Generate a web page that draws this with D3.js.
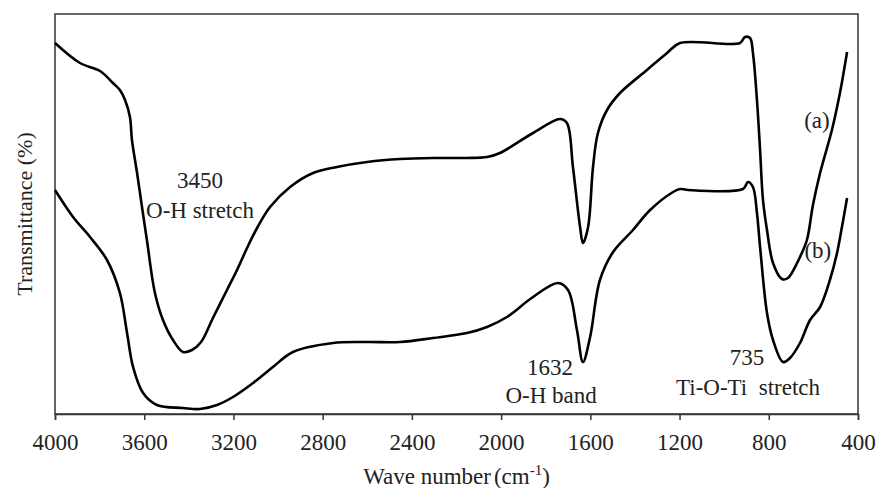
<!DOCTYPE html>
<html>
<head>
<meta charset="utf-8">
<script src="https://cdn.jsdelivr.net/npm/d3@7"></script>
<style>
  body { margin: 0; background: #fff; }
  text { font-family: "Liberation Serif", "Times New Roman", serif; fill: #222; }
</style>
</head>
<body>
<div id="chart"></div>
<script>
// Data (wave number in cm-1, transmittance in arbitrary %)
const wave_a = [4000, 3888, 3798, 3740, 3709, 3686, 3664, 3655, 3632, 3610, 3588, 3552, 3516, 3471, 3426, 3386, 3345, 3292, 3229, 3184, 3139, 3094, 3036, 2946, 2843, 2736, 2601, 2453, 2305, 2153, 2063, 2005, 1857, 1736, 1705, 1678, 1646, 1633, 1610, 1588, 1566, 1525, 1467, 1346, 1256, 1198, 929, 907, 884, 871, 853, 839, 826, 808, 781, 741, 714, 673, 660, 629, 602, 570, 517, 481, 449];
const trans_a = [92.75, 87.75, 85.75, 82.75, 81, 78.5, 74.25, 68.5, 60.25, 51.75, 43.5, 30.25, 23.5, 18.5, 15.5, 16, 18, 24, 31, 36, 41.5, 46.5, 51.75, 56.75, 60.25, 61.75, 63, 63.75, 64, 64, 64.25, 65.25, 70.25, 73.75, 72.75, 61.75, 46.75, 42.75, 46.75, 61.75, 70.25, 76, 80.25, 86, 90.25, 92.75, 92.75, 94.25, 94, 90.25, 78.5, 66, 53.5, 46, 37.75, 33.75, 34, 37.75, 39.25, 43.5, 52.25, 60.25, 71, 80.25, 90.5];

const wave_b = [4000, 3919, 3843, 3767, 3709, 3677, 3650, 3605, 3543, 3426, 3350, 3274, 3202, 3112, 3023, 2933, 2754, 2601, 2453, 2305, 2153, 2063, 1974, 1857, 1745, 1700, 1660, 1633, 1601, 1557, 1498, 1409, 1332, 1229, 1198, 1162, 916, 893, 871, 853, 839, 808, 781, 736, 705, 660, 615, 570, 526, 494, 472, 449];
const trans_b = [56, 49.25, 44.25, 38.5, 30.25, 20.25, 11.75, 5.25, 2.25, 1.5, 1.25, 2.25, 4.25, 7.75, 11.75, 15.5, 17.75, 18, 18, 19, 20.25, 21.75, 24.25, 29.25, 32.75, 31, 21, 13, 19.25, 33.5, 40.5, 46, 51, 55.5, 56.25, 56, 56.25, 58, 56.75, 50.25, 41.75, 25.25, 18.5, 13, 14, 17.75, 23.5, 26.75, 33.5, 40.25, 46.75, 54];

const x_ticks = [4000, 3600, 3200, 2800, 2400, 2000, 1600, 1200, 800, 400];

// annotations: [wave, trans, text]
const notes = [
    [3350, 56.5, "3450"],
    [3350, 49, "O-H stretch"],
    [1781, 9.75, "1632"],
    [1776, 2.75, "O-H band"],
    [898, 12.25, "735"],
    [893, 4.75, "Ti-O-Ti  stretch"],
    [584, 71.5, "(a)"],
    [580, 39, "(b)"]
];

const series = [
    wave_a.map((w, i) => ({w: w, t: trans_a[i]})),
    wave_b.map((w, i) => ({w: w, t: trans_b[i]}))
];

const chart_width = 878;
const chart_height = 488;
const plot_left = 55, plot_right = 858, plot_top = 14, plot_bottom = 414;

// Scales
const x_scale = d3.scaleLinear()
    .domain([4000, 400])
    .range([plot_left, plot_right]);

const y_scale = d3.scaleLinear()
    .domain([0, 100])
    .range([plot_bottom, plot_top]);

// Create SVG
const svg = d3.select("#chart")
    .append("svg")
    .attr("width", chart_width)
    .attr("height", chart_height);

// Frame
svg.append("rect")
    .attr("x", plot_left)
    .attr("y", plot_top)
    .attr("width", plot_right - plot_left)
    .attr("height", plot_bottom - plot_top)
    .attr("fill", "none")
    .attr("stroke", "#333")
    .attr("stroke-width", 1.5);

// Axis
const x_axis = d3.axisBottom(x_scale)
    .tickValues(x_ticks)
    .tickSize(6)
    .tickFormat(d3.format("d"));

const gx = svg.append("g")
    .attr("transform", `translate(0, ${plot_bottom})`)
    .call(x_axis);

gx.select(".domain").attr("stroke", "#333").attr("stroke-width", 1.5);
gx.selectAll(".tick line").attr("stroke", "#333").attr("stroke-width", 1.5);
gx.selectAll(".tick text")
    .attr("y", 20)
    .attr("font-size", 23)
    .attr("font-family", "Liberation Serif")
    .attr("fill", "#222");

// Lines
const line = d3.line()
    .x(d => x_scale(d.w))
    .y(d => y_scale(d.t))
    .curve(d3.curveCatmullRom.alpha(0.5));

svg.selectAll(".spectrum")
    .data(series)
    .enter()
    .append("path")
    .attr("class", "spectrum")
    .attr("fill", "none")
    .attr("stroke", "#000")
    .attr("stroke-width", 2.6)
    .attr("stroke-linejoin", "round")
    .attr("d", line);

// Annotations
svg.selectAll(".note")
    .data(notes)
    .enter()
    .append("text")
    .attr("class", "note")
    .attr("x", d => x_scale(d[0]))
    .attr("y", d => y_scale(d[1]))
    .attr("text-anchor", "middle")
    .attr("font-size", 23)
    .style("white-space", "pre")
    .text(d => d[2]);

// Axis titles
const xt = svg.append("text")
    .attr("x", (plot_left + plot_right) / 2)
    .attr("y", 484)
    .attr("text-anchor", "middle")
    .attr("font-size", 23);
xt.append("tspan").text("Wave number");
xt.append("tspan").attr("dx", 3).text("(cm");
xt.append("tspan").attr("font-size", 15).attr("dy", -9).text("-1");
xt.append("tspan").attr("dy", 9).text(")");

svg.append("text")
    .attr("transform", `translate(32, ${(plot_top + plot_bottom) / 2}) rotate(-90)`)
    .attr("text-anchor", "middle")
    .attr("font-size", 22)
    .text("Transmittance (%)");
</script>
</body>
</html>
